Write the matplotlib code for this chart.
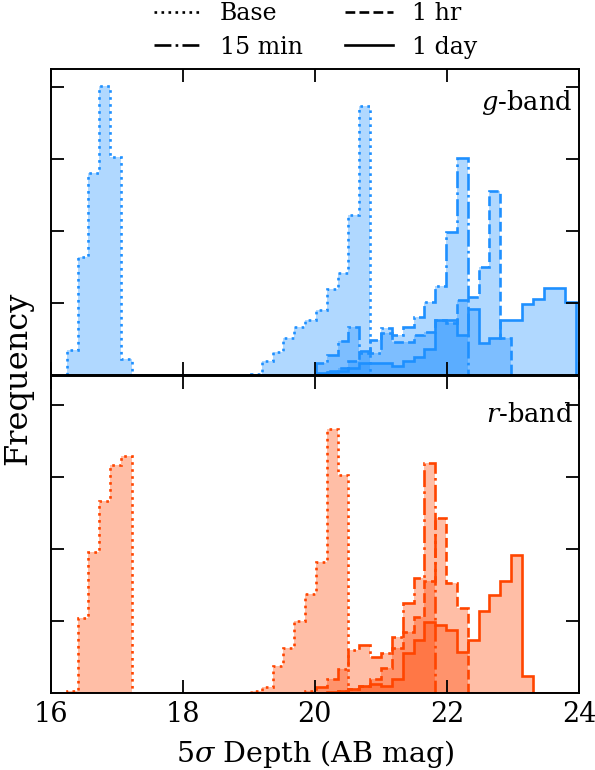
import matplotlib
matplotlib.use("Agg")
import matplotlib.pyplot as plt
from matplotlib.lines import Line2D
import numpy as np

plt.rcParams['font.family'] = ['DejaVu Serif']
plt.rcParams['mathtext.fontset'] = 'dejavuserif'

# common histogram bins (AB mag)
edges = np.linspace(16.242, 23.955, 48)

# frequencies, in units of one y tick spacing
g_base = [0.35, 1.64, 2.80, 4.01, 3.03, 0.22,
          0, 0, 0, 0, 0, 0, 0, 0, 0, 0, 0,
          0.02, 0.19, 0.32, 0.51, 0.67, 0.76, 0.90, 1.20, 1.41, 2.22, 3.73,
          0, 0, 0, 0, 0, 0, 0, 0, 0, 0, 0, 0, 0, 0, 0, 0, 0, 0, 0]
g_15min = [0]*23 + [0.16, 0.28, 0.47, 0.67, 0.33, 0.30, 0.65, 0.56, 0.67, 0.81,
                    1.02, 1.23, 1.98, 3.01] + [0]*10
g_1hr = [0]*24 + [0.05, 0.10, 0.20, 0.30, 0.49, 0.58, 0.46, 0.46, 0.55, 0.60,
                  0.76, 0.72, 1.04, 1.09, 1.50, 2.56, 0.51] + [0]*6
g_1day = [0]*23 + [0.03, 0.04, 0.05, 0.10, 0.16, 0.16, 0.16, 0.12, 0.19, 0.25,
                   0.36, 0.76, 0.76, 0.56, 0.91, 0.45, 0.51, 0.77, 0.77, 0.98,
                   1.06, 1.21, 1.21, 1.02]

r_base = [0.03, 1.04, 1.96, 2.66, 3.17, 3.29,
          0, 0, 0, 0, 0, 0, 0, 0, 0, 0, 0,
          0.03, 0.09, 0.37, 0.63, 1.00, 1.38, 1.82, 3.66, 3.03] + [0]*21
r_15min = [0]*22 + [0.03, 0.09, 0.20, 0.33, 0.60, 0.67, 0.50, 0.55, 0.78, 1.25,
                    1.59, 3.19] + [0]*13
r_1hr = [0]*25 + [0.03, 0.05, 0.10, 0.20, 0.35, 0.62, 0.85, 1.05, 1.55, 2.43,
                  1.52, 1.18] + [0]*10
r_1day = [0]*24 + [0.02, 0.03, 0.06, 0.10, 0.13, 0.10, 0.20, 0.55, 0.74, 0.99,
                   0.94, 0.87, 0.57, 0.74, 1.14, 1.36, 1.55, 1.92, 0.23] + [0]*4

labels = ['Base', '15 min', '1 hr', '1 day']
styles = [':', '-.', '--', '-']
xticks = [16, 18, 20, 22, 24]

fig = plt.figure(figsize=(5.95, 7.7), dpi=100)
axG = fig.add_axes([0.0852, 1 - 375/770, 0.888, 306/770])
axR = fig.add_axes([0.0852, 1 - 693/770, 0.888, 317/770])

panels = [(axG, [g_base, g_15min, g_1hr, g_1day], '#1E90FF', '$g$-band', 4.25, 0.89),
          (axR, [r_base, r_15min, r_1hr, r_1day], '#FF4500', '$r$-band', 4.4, 0.88)]

widths = np.diff(edges)
for ax, series, col, name, top, ty in panels:
    for vals, ls in zip(series, styles):
        ax.bar(edges[:-1], vals, width=widths, align='edge', color=col,
               alpha=0.35, linewidth=0)
        ax.stairs(vals, edges, color=col, linewidth=1.9, linestyle=ls)
    ax.set_xlim(16, 24)
    ax.set_ylim(0, top)
    ax.set_xticks(xticks)
    ax.set_yticks([1, 2, 3, 4])
    ax.set_yticklabels([])
    ax.tick_params(direction='in', top=True, right=True, length=9.5, width=1.3,
                   labelsize=19.5, pad=6)
    for sp in ax.spines.values():
        sp.set_linewidth(1.4)
    ax.text(0.988, ty, name, transform=ax.transAxes, ha='right', va='center',
            fontsize=18.5)

axG.set_xticklabels([])
axR.set_xlabel('5$\\sigma$ Depth (AB mag)', fontsize=20.5, labelpad=7)
fig.text(0.029, 1 - 378/770, 'Frequency', rotation=90, ha='center',
         va='center', fontsize=23)

handles = [Line2D([], [], color='black', linestyle=ls, linewidth=1.9)
           for ls in styles]
fig.legend(handles, labels, loc='upper center', bbox_to_anchor=(0.53, 1.025),
           ncol=2, frameon=False, fontsize=17, handlelength=2.0,
           handletextpad=0.8, columnspacing=1.8, labelspacing=0.45)

fig.savefig('out.png', dpi=100)
